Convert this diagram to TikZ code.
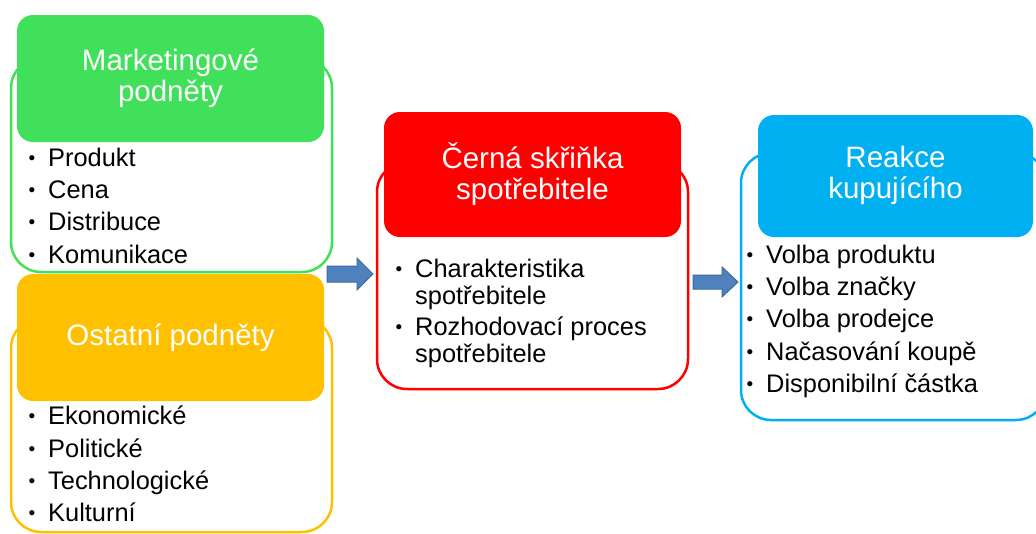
\documentclass[tikz,border=0pt]{standalone}
\usepackage{fontspec}
\setmainfont{Liberation Sans}
\definecolor{mgreen}{HTML}{41E05A}
\definecolor{morange}{HTML}{FFC000}
\definecolor{mred}{HTML}{FF0000}
\definecolor{mblue}{HTML}{00B0F0}
\definecolor{arrowfill}{HTML}{4F81BD}
\definecolor{arrowline}{HTML}{3D6CA3}
\tikzset{
  outerbox/.style={draw=#1, line width=2.5pt, fill=white, rounded corners=30pt},
  headbox/.style={fill=#1, draw=none, rounded corners=16pt},
  headtext/.style={text=white, align=center, font=\fontsize{29.5}{31}\selectfont},
  item/.style={anchor=base west, inner sep=0pt, font=\fontsize{25.4}{32}\selectfont},
  blockarrow/.style={fill=arrowfill, draw=arrowline, line width=1pt, line join=miter}
}
% small list bullet followed by the hanging indent
\newcommand{\bul}{\makebox[21pt][l]{\hspace*{1.5pt}\raisebox{1.8pt}{\fontsize{19}{19}\selectfont •}}}
\newcommand{\nobul}{\hspace*{21pt}}
\begin{document}
\begin{tikzpicture}[x=1pt, y=-1pt]
\useasboundingbox (0,0) rectangle (1036,533);
\clip (0,0) rectangle (1036,533);

% marketing stimuli
\draw[outerbox=mgreen] (11,58) rectangle (332,272);
\node[item] (mk1) at (27,166) {\bul Produkt};
\node[item] (mk2) at (27,198) {\bul Cena};
\node[item] (mk3) at (27,230) {\bul Distribuce};
\node[item] (mk4) at (27,263) {\bul Komunikace};
\fill[headbox=mgreen] (17,15) rectangle (324,142);
\node[headtext] (mkhead) at (170.5,78) {Marketingové\\podněty};

% other stimuli
\draw[outerbox=morange] (11,318) rectangle (332,532);
\fill[headbox=morange] (17,274) rectangle (324,401);
\node[headtext] (othead) at (170.5,337.5) {Ostatní podněty};
\node[item] (ot1) at (27,424) {\bul Ekonomické};
\node[item] (ot2) at (27,457) {\bul Politické};
\node[item] (ot3) at (27,489) {\bul Technologické};
\node[item] (ot4) at (27,521) {\bul Kulturní};

% consumer black box
\draw[outerbox=mred] (377,162) rectangle (688,389);
\fill[headbox=mred] (384,112) rectangle (681,237);
\node[headtext] (bbhead) at (532.5,174) {Černá skřiňka\\spotřebitele};
\node[item] (bb1) at (394,277) {\bul Charakteristika};
\node[item] (bb1b) at (394,304) {\nobul spotřebitele};
\node[item] (bb2) at (394,335) {\bul Rozhodovací proces};
\node[item] (bb2b) at (394,362) {\nobul spotřebitele};

% buyer response
\draw[outerbox=mblue] (741,153) rectangle (1046,420);
\fill[headbox=mblue] (758,115) rectangle (1033,237);
\node[headtext] (rshead) at (895.5,175) {Reakce\\kupujícího};
\node[item] (rs1) at (745,263) {\bul Volba produktu};
\node[item] (rs2) at (745,295) {\bul Volba značky};
\node[item] (rs3) at (745,327) {\bul Volba prodejce};
\node[item] (rs4) at (745,360) {\bul Načasování koupě};
\node[item] (rs5) at (745,392) {\bul Disponibilní částka};

% block arrows between the stages
\coordinate (a1) at (327,274);
\draw[blockarrow] (a1) ++(0,-8) -- ++(30,0) -- ++(0,-8) -- ++(16,16)
  -- ++(-16,16) -- ++(0,-8) -- ++(-30,0) -- cycle;
\coordinate (a2) at (693,282);
\draw[blockarrow] (a2) ++(0,-7) -- ++(29,0) -- ++(0,-8) -- ++(16,15)
  -- ++(-16,15) -- ++(0,-8) -- ++(-29,0) -- cycle;
\end{tikzpicture}
\end{document}
